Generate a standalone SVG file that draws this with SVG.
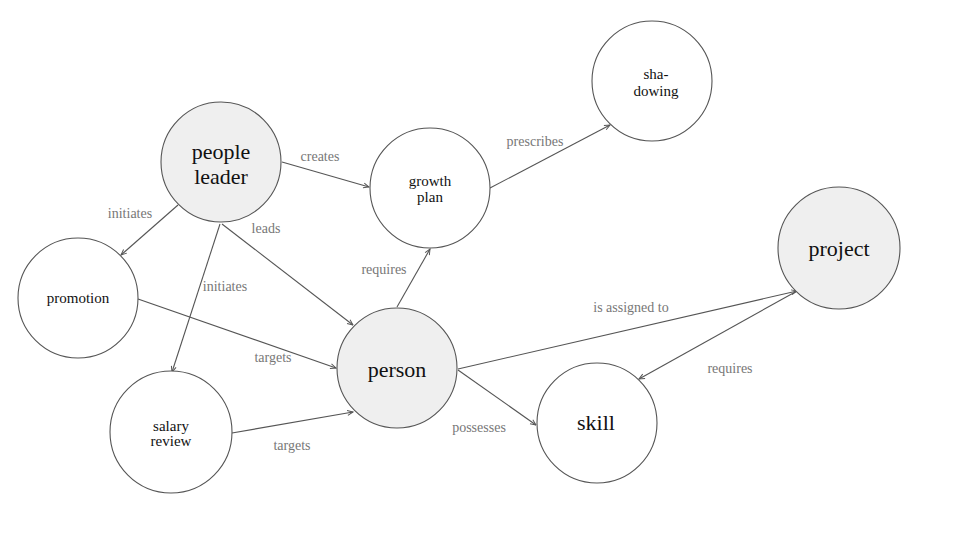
<svg xmlns="http://www.w3.org/2000/svg" width="960" height="540" viewBox="0 0 960 540">
<defs>
<marker id="arr" viewBox="0 0 10 10" refX="9" refY="5" markerWidth="7" markerHeight="7" orient="auto" markerUnits="userSpaceOnUse">
<path d="M1,1.5 L9,5 L1,8.5" fill="none" stroke="#555" stroke-width="1.4"/>
</marker>
<style>
.n{stroke:#555;stroke-width:1.1;fill:#fff}
.g{fill:#efefef}
.e{stroke:#555;stroke-width:1.1;fill:none;marker-end:url(#arr)}
.lb{font-size:14px;fill:#777;text-anchor:middle}
.big{font-size:22px;fill:#111;text-anchor:middle}
.sm{font-size:15px;fill:#111;text-anchor:middle}
</style>
</defs>
<rect width="960" height="540" fill="#fff"/>
<g id="connectors" font-family="'Liberation Serif', 'DejaVu Serif', serif">
<line class="e" x1="282" y1="162" x2="369" y2="187"/>
<line class="e" x1="490" y1="188" x2="610" y2="125"/>
<line class="e" x1="178" y1="205" x2="121" y2="255"/>
<line class="e" x1="220" y1="224" x2="172" y2="372"/>
<line class="e" x1="222" y1="224" x2="353" y2="325"/>
<line class="e" x1="138" y1="299" x2="336" y2="368"/>
<line class="e" x1="232" y1="433" x2="353" y2="412"/>
<line class="e" x1="397" y1="307" x2="430" y2="249"/>
<line class="e" x1="458" y1="369" x2="797" y2="291"/>
<line class="e" x1="458" y1="370" x2="536" y2="425"/>
<line class="e" x1="797" y1="291" x2="639" y2="379"/>
<text class="lb" x="320" y="161">creates</text>
<text class="lb" x="535" y="146">prescribes</text>
<text class="lb" x="130" y="218">initiates</text>
<text class="lb" x="225" y="291">initiates</text>
<text class="lb" x="266" y="233">leads</text>
<text class="lb" x="273" y="362">targets</text>
<text class="lb" x="292" y="450">targets</text>
<text class="lb" x="384" y="274">requires</text>
<text class="lb" x="631" y="312">is assigned to</text>
<text class="lb" x="479" y="432">possesses</text>
<text class="lb" x="730" y="373">requires</text>
</g>
<g font-family="'Liberation Serif', 'DejaVu Serif', serif">
<g id="people-leader"><circle class="n g" cx="221" cy="162" r="60"/><text class="big" x="221" y="159">people</text><text class="big" x="221" y="184">leader</text></g>
<g id="growth-plan"><circle class="n" cx="430" cy="188" r="60"/><text class="sm" x="430" y="186">growth</text><text class="sm" x="430" y="202">plan</text></g>
<g id="shadowing"><circle class="n" cx="652" cy="81" r="60"/><text class="sm" x="656" y="79">sha-</text><text class="sm" x="656" y="96">dowing</text></g>
<g id="promotion"><circle class="n" cx="78" cy="298" r="60"/><text class="sm" x="78" y="303">promotion</text></g>
<g id="salary-review"><circle class="n" cx="171" cy="432" r="61"/><text class="sm" x="171" y="431">salary</text><text class="sm" x="171" y="446">review</text></g>
<g id="person"><circle class="n g" cx="397" cy="368" r="60"/><text class="big" x="397" y="377">person</text></g>
<g id="skill"><circle class="n" cx="597" cy="423" r="60"/><text class="big" x="596" y="430">skill</text></g>
<g id="project"><circle class="n g" cx="839" cy="248" r="61"/><text class="big" x="839" y="256">project</text></g>
</g>
</svg>
